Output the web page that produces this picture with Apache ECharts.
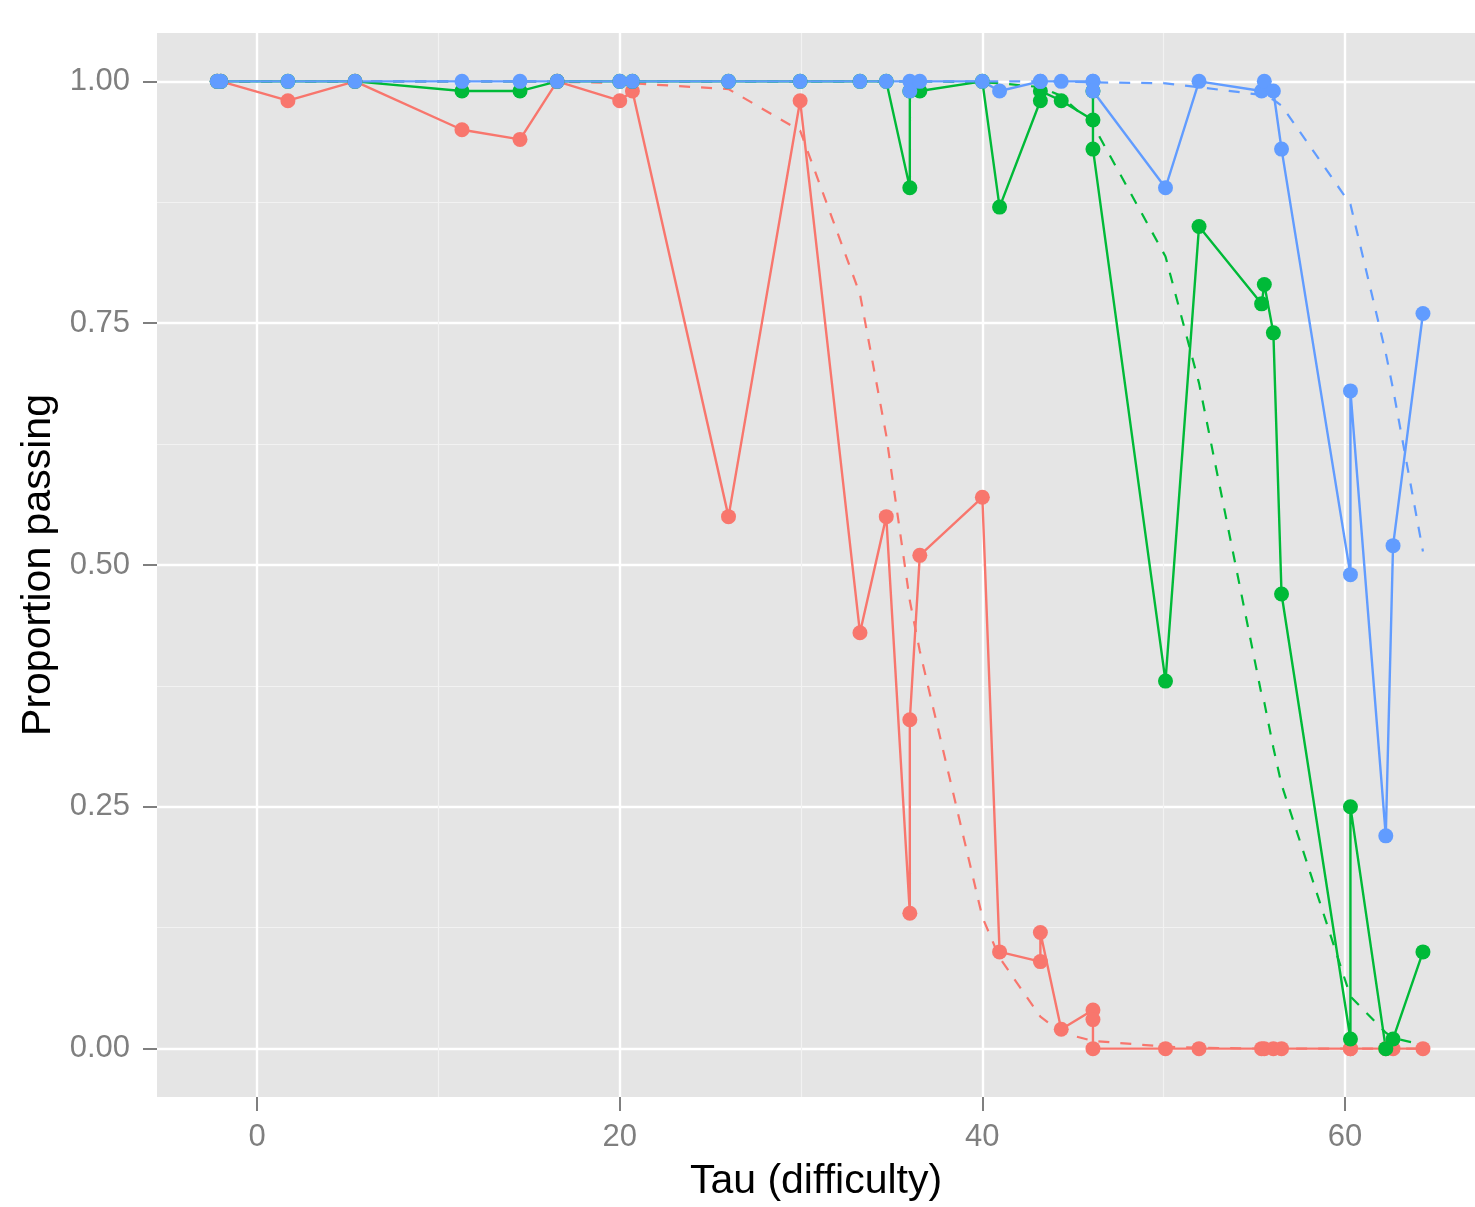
<!DOCTYPE html>
<html><head><meta charset="utf-8">
<script src="https://cdn.jsdelivr.net/npm/echarts@6/dist/echarts.min.js"></script>
<style>html,body{margin:0;padding:0;background:#fff;overflow:hidden}#c{width:1475px;height:1207px}</style>
</head><body><div id="c"></div>
<script>
// observed tau values (ties kept, each series lists its values in drawing order)
const tau = [-2.2, -2.0, 1.7, 5.4, 11.3, 14.5, 16.55, 20.0, 20.7, 26.0, 29.95, 33.25, 34.7, 36.0, 36.0, 36.55, 40.0, 40.95, 43.2, 43.2, 44.35, 46.1, 46.1, 46.1, 50.1, 51.95, 55.4, 55.55, 56.05, 56.5, 60.3, 60.3, 62.25, 62.65, 64.3];
const redObs   = [1.00, 1.00, 0.98, 1.00, 0.95, 0.94, 1.00, 0.98, 0.99, 0.55, 0.98, 0.43, 0.55, 0.14, 0.34, 0.51, 0.57, 0.10, 0.09, 0.12, 0.02, 0.04, 0.03, 0.00, 0, 0, 0, 0, 0, 0, 0, 0, 0, 0, 0];
const greenObs = [1, 1, 1, 1, 0.99, 0.99, 1, 1, 1, 1, 1, 1, 1, 0.89, 0.99, 0.99, 1.00, 0.87, 0.98, 0.99, 0.98, 0.96, 0.99, 0.93, 0.38, 0.85, 0.77, 0.79, 0.74, 0.47, 0.01, 0.25, 0.00, 0.01, 0.10];
const blueObs  = [1, 1, 1, 1, 1, 1, 1, 1, 1, 1, 1, 1, 1, 1.00, 0.99, 1.00, 1.00, 0.99, 1.00, 1.00, 1.00, 1.00, 1.00, 0.99, 0.89, 1.00, 0.99, 1.00, 0.99, 0.93, 0.49, 0.68, 0.22, 0.52, 0.76];

// fitted curves (dashed)
const fitTau   = [-2.2, -2.0, 1.7, 5.4, 11.3, 14.5, 16.55, 20.0, 20.7, 26.0, 29.95, 33.25, 34.7, 36.0, 36.55, 40.0, 40.95, 43.2, 44.35, 46.1, 50.1, 51.95, 55.4, 55.55, 56.05, 56.5, 60.3, 62.25, 62.65, 64.3];
const redFit   = [1, 1, 1, 1, 1, 1, 0.9995, 0.9985, 0.998, 0.992, 0.949, 0.780, 0.634, 0.463, 0.411, 0.136, 0.094, 0.033, 0.0165, 0.008, 0.002, 0.001, 0, 0, 0, 0, 0, 0, 0, 0];
const greenFit = [1, 1, 1, 1, 1, 1, 1, 1, 1, 1, 1, 1, 1, 1, 1, 0.999, 0.998, 0.994, 0.985, 0.955, 0.819, 0.688, 0.366, 0.358, 0.311, 0.273, 0.054, 0.0165, 0.011, 0.004];
const blueFit  = [1, 1, 1, 1, 1, 1, 1, 1, 1, 1, 1, 1, 1, 1, 1, 1, 1, 1, 1, 0.999, 0.998, 0.994, 0.986, 0.985, 0.981, 0.975, 0.873, 0.719, 0.682, 0.514];

const xTicks = [0, 20, 40, 60];
const xMinor = [10, 30, 50];
const yTicks = [0, 0.25, 0.5, 0.75, 1];
const yMinor = [0.125, 0.375, 0.625, 0.875];

const colors = ['#F8766D', '#00BA38', '#619CFF'];
const font = 'Liberation Sans, Arial, Helvetica, sans-serif';

function pairs(xs, ys) { return xs.map((x, i) => [x, ys[i]]); }

const obs = [redObs, greenObs, blueObs];
const fits = [redFit, greenFit, blueFit];

const series = [];
fits.forEach((f, i) => series.push({
  type: 'line', data: pairs(fitTau, f), showSymbol: false, symbol: 'none', z: 2,
  lineStyle: { color: colors[i], width: 2.2, type: [11, 11] }, animation: false, silent: true
}));
obs.forEach((o, i) => series.push({
  type: 'line', data: pairs(tau, o), showSymbol: false, symbol: 'none', z: 3,
  lineStyle: { color: colors[i], width: 2.4 }, animation: false, silent: true
}));
obs.forEach((o, i) => series.push({
  type: 'scatter', data: pairs(tau, o), symbol: 'circle', symbolSize: 15, z: 4,
  itemStyle: { color: colors[i], opacity: 1 }, animation: false, silent: true
}));

const xmin = -5.52, xmax = 67.17, ymin = -0.05, ymax = 1.05;

const option = {
  animation: false,
  grid: { left: 157, width: 1318, top: 33, height: 1068, show: true, backgroundColor: '#E5E5E5', borderWidth: 0, containLabel: false },
  xAxis: [
    { type: 'value', min: xmin, max: xmax, position: 'bottom',
      axisLine: { show: false, onZero: false },
      axisTick: { show: true, customValues: xTicks, length: 14, lineStyle: { color: '#7F7F7F', width: 2 } },
      axisLabel: { show: true, customValues: xTicks, color: '#7F7F7F', fontSize: 31, fontFamily: font, margin: 25 },
      splitLine: { show: true, lineStyle: { color: '#FFFFFF', width: 2.4 } },
      name: 'Tau (difficulty)', nameLocation: 'middle', nameGap: 64,
      nameTextStyle: { color: '#000', fontSize: 41, fontFamily: font } },
    { type: 'value', min: xmin, max: xmax, position: 'top',
      axisLine: { show: false, onZero: false }, axisLabel: { show: false },
      axisTick: { show: false, customValues: xMinor },
      splitLine: { show: true, lineStyle: { color: '#F2F2F2', width: 1.2 } } }
  ],
  yAxis: [
    { type: 'value', min: ymin, max: ymax, position: 'left',
      axisLine: { show: false, onZero: false },
      axisTick: { show: true, customValues: yTicks, length: 14, lineStyle: { color: '#7F7F7F', width: 2 } },
      axisLabel: { show: true, customValues: yTicks, color: '#7F7F7F', fontSize: 31, fontFamily: font, margin: 27,
        formatter: v => v.toFixed(2) },
      splitLine: { show: true, lineStyle: { color: '#FFFFFF', width: 2.4 } },
      name: 'Proportion passing', nameLocation: 'middle', nameGap: 73, nameRotate: 90,
      nameTextStyle: { color: '#000', fontSize: 41, fontFamily: font } },
    { type: 'value', min: ymin, max: ymax, position: 'right',
      axisLine: { show: false, onZero: false }, axisLabel: { show: false },
      axisTick: { show: false, customValues: yMinor },
      splitLine: { show: true, lineStyle: { color: '#F2F2F2', width: 1.2 } } }
  ],
  series: series
};

const chart = echarts.init(document.getElementById('c'), null, { renderer: 'canvas' });
chart.setOption(option);
</script>
</body></html>
